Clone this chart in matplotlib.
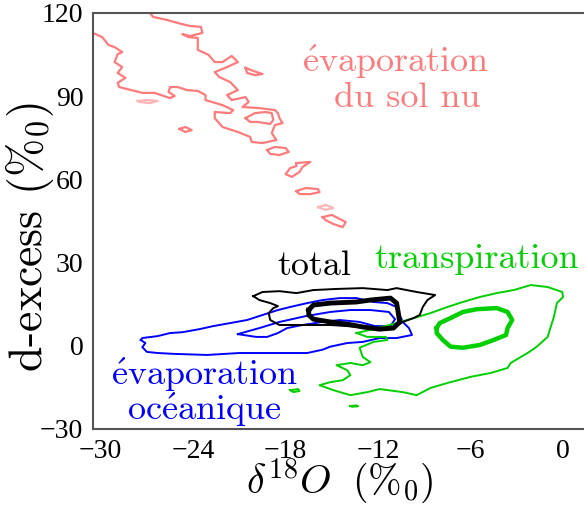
import numpy as np
import matplotlib.pyplot as plt

plt.rcParams['mathtext.fontset'] = 'cm'

############################################################
# Contours (delta18O, d-excess)
############################################################

# evaporation du sol nu (rose) : la bande principale, coupee par les axes
sol_bande = [(-26.8, 120.0), (-26.6, 118.6), (-25.7, 117.5), (-25.0, 116.4), (-24.2, 115.3),
             (-23.5, 115.0), (-23.4, 112.8), (-24.2, 111.7), (-24.7, 112.4), (-24.3, 111.3),
             (-23.7, 111.0), (-23.7, 106.7), (-23.0, 104.9), (-22.6, 102.3), (-22.1, 102.3),
             (-21.5, 104.5), (-21.1, 102.3), (-21.8, 100.5), (-22.6, 98.7), (-22.3, 96.9),
             (-21.6, 95.1), (-21.1, 92.2), (-21.8, 90.4), (-21.5, 88.6), (-20.6, 89.7),
             (-20.4, 87.9), (-20.8, 86.1), (-19.7, 85.7), (-18.7, 85.0), (-18.5, 83.9),
             (-18.4, 82.1), (-18.2, 80.3), (-18.7, 79.6), (-18.9, 76.7), (-18.6, 74.2),
             (-19.5, 73.1), (-20.2, 73.5), (-20.3, 75.3), (-21.1, 77.1), (-22.1, 78.9),
             (-22.6, 82.1), (-22.6, 84.3), (-21.6, 83.9), (-21.4, 85.0), (-22.1, 86.8),
             (-23.2, 88.6), (-23.2, 90.4), (-23.7, 91.9), (-24.4, 92.2), (-25.0, 93.3),
             (-25.5, 93.3), (-25.6, 91.5), (-25.2, 90.1), (-25.5, 89.3), (-26.5, 91.2),
             (-27.3, 91.2), (-28.8, 93.3), (-28.9, 94.8), (-28.4, 96.6), (-28.9, 98.4),
             (-28.6, 100.5), (-29.1, 102.3), (-28.9, 105.2), (-28.6, 105.9), (-29.1, 107.7),
             (-29.5, 108.5), (-29.9, 111.3), (-30.5, 112.8)]
sol_boucle = [(-20.6, 82.1), (-20.0, 83.9), (-19.3, 84.3), (-18.9, 83.9), (-18.8, 81.4),
              (-19.0, 80.0), (-19.8, 80.7), (-20.3, 80.7)]
sol_ilots = [
    [(-20.6, 100.2), (-20.1, 99.1), (-19.5, 98.0), (-20.0, 97.6), (-20.5, 98.4)],
    [(-24.9, 78.2), (-24.5, 78.9), (-24.1, 77.8), (-24.5, 77.1)],
    [(-19.2, 70.6), (-18.7, 71.7), (-18.0, 71.3), (-17.8, 69.9), (-18.4, 68.8), (-19.0, 69.2)],
    [(-17.3, 65.9), (-16.4, 66.3), (-16.9, 64.5), (-17.1, 62.7), (-17.6, 60.9), (-18.0, 61.9),
     (-17.7, 64.1), (-17.3, 64.8)],
    [(-17.3, 55.8), (-16.7, 56.9), (-15.9, 56.5), (-15.8, 55.4), (-16.4, 54.7), (-17.1, 54.7)],
    [(-15.6, 46.4), (-15.0, 47.2), (-14.1, 44.6), (-14.3, 42.8), (-14.9, 43.9), (-15.4, 45.3)],
]
sol_ilots_pales = [
    [(-27.6, 88.3), (-27.0, 88.6), (-26.3, 88.3), (-26.8, 87.5), (-27.5, 87.9)],
    [(-15.9, 50.0), (-15.4, 50.8), (-14.9, 49.7), (-15.4, 49.0)],
]

# total (noir)
total_ext = [(-20.1, 17.9), (-19.5, 19.4), (-18.4, 19.7), (-17.3, 19.0), (-16.2, 20.1),
             (-14.7, 20.5), (-13.0, 20.8), (-11.4, 20.1), (-10.8, 20.8), (-9.5, 19.4),
             (-8.3, 18.3), (-8.8, 16.5), (-9.1, 14.0), (-9.3, 11.1), (-9.7, 10.0),
             (-10.4, 8.6), (-10.7, 7.5), (-11.2, 6.4), (-12.5, 6.4), (-14.0, 7.1),
             (-15.1, 7.5), (-17.3, 7.5), (-18.4, 7.5), (-19.0, 9.3), (-19.1, 11.8),
             (-18.8, 13.6), (-18.5, 14.3), (-19.0, 15.4), (-19.7, 16.5)]
total_int = [(-16.5, 12.9), (-16.2, 14.7), (-15.1, 15.4), (-13.4, 15.8), (-12.5, 16.5),
             (-11.2, 17.2), (-10.8, 15.4), (-10.7, 12.2), (-10.6, 8.6), (-11.0, 6.4),
             (-11.9, 6.0), (-13.0, 6.8), (-14.0, 7.8), (-15.1, 8.6), (-16.2, 9.6),
             (-16.5, 11.1)]

# evaporation oceanique (bleu)
ocean_ext = [(-27.4, 2.1), (-27.3, 2.8), (-26.3, 3.5), (-25.5, 4.6), (-24.7, 4.9),
             (-23.6, 6.0), (-22.7, 7.1), (-21.6, 8.2), (-20.5, 9.3), (-19.5, 11.1),
             (-18.5, 12.9), (-17.7, 14.0), (-16.6, 15.4), (-15.6, 16.5), (-14.5, 17.2),
             (-13.4, 17.2), (-12.3, 15.8), (-11.4, 15.4), (-10.8, 14.0), (-10.6, 11.1),
             (-10.4, 8.6), (-10.0, 6.4), (-9.8, 3.9), (-10.8, 2.8), (-11.9, 2.8),
             (-13.0, 1.4), (-14.0, 1.0), (-15.1, -0.3), (-15.6, -1.4), (-16.6, -2.6),
             (-18.8, -2.6), (-21.0, -2.6), (-23.1, -3.3), (-25.3, -2.9), (-26.3, -2.6),
             (-27.0, -2.2), (-27.3, -0.5), (-27.1, 1.0)]
ocean_int = [(-21.1, 4.2), (-19.9, 3.2), (-19.2, 3.2), (-18.5, 4.6), (-17.9, 6.4),
             (-16.9, 7.5), (-15.6, 8.6), (-14.5, 9.3), (-13.2, 8.6), (-12.2, 7.1),
             (-11.2, 7.1), (-10.9, 9.6), (-11.3, 12.2), (-12.5, 12.9), (-13.8, 12.9),
             (-15.1, 12.2), (-16.7, 10.7), (-18.4, 8.6), (-19.7, 6.4), (-20.6, 5.0)]

# transpiration (vert)
transp_ext = [(-13.4, 4.6), (-12.3, 6.0), (-10.8, 8.2), (-9.5, 10.3), (-8.6, 11.8),
              (-7.5, 14.0), (-6.5, 15.8), (-5.4, 17.6), (-4.3, 19.0), (-3.2, 20.1),
              (-2.1, 21.9), (-1.0, 21.2), (-0.05, 19.4), (0.0, 17.6), (-0.4, 15.4),
              (-0.6, 10.3), (-0.8, 6.8), (-1.0, 3.2), (-1.7, -0.3), (-2.3, -2.6),
              (-3.4, -6.2), (-3.6, -8.0), (-4.7, -9.8), (-6.0, -11.2), (-7.5, -13.4),
              (-8.6, -15.2), (-9.5, -17.8), (-10.4, -16.7), (-11.9, -15.6), (-12.7, -16.7),
              (-13.8, -17.8), (-14.9, -16.0), (-15.8, -14.2), (-15.1, -13.1), (-14.3, -12.4),
              (-13.8, -10.6), (-14.0, -8.8), (-14.7, -7.0), (-13.8, -6.2), (-13.0, -7.0),
              (-12.5, -5.9), (-13.0, -4.0), (-13.2, -0.7), (-12.3, 1.4), (-11.4, 2.1),
              (-11.5, 3.2), (-12.7, 3.2)]
transp_int = [(-8.2, 6.4), (-8.0, 8.2), (-7.3, 10.0), (-6.5, 12.2), (-5.6, 13.2),
              (-4.3, 13.6), (-3.6, 12.2), (-3.3, 9.3), (-3.6, 6.4), (-3.7, 3.9),
              (-4.5, 2.1), (-5.4, 0.3), (-6.5, -0.7), (-7.3, -0.3), (-7.8, 2.1),
              (-8.2, 4.6)]
transp_ilots = [
    [(-17.7, -16.0), (-17.2, -15.6), (-17.1, -16.3), (-17.5, -16.7)],
    [(-13.8, -21.7), (-13.4, -21.5), (-13.3, -21.8), (-13.7, -22.0)],
]

rose = '#ff7b7b'
bleu = '#0000ff'
vert = '#00d000'


def trace(ax, pts, couleur, lw, ferme=True, alpha=1.0):
    pts = np.array(pts)
    if ferme:
        pts = np.vstack([pts, pts[:1]])
    ax.plot(pts[:, 0], pts[:, 1], color=couleur, lw=lw, alpha=alpha, solid_joinstyle='round')


#####################################
# Figure
#####################################

fig = plt.figure(figsize=(5.84, 5.07), dpi=100)
ax = fig.add_axes([93 / 584, 1 - 429 / 507, 491 / 584, 416 / 507])

trace(ax, sol_bande, rose, 1.6, ferme=False)
trace(ax, sol_boucle, rose, 1.6)
for ilot in sol_ilots:
    trace(ax, ilot, rose, 1.6)
for ilot in sol_ilots_pales:
    trace(ax, ilot, rose, 1.6, alpha=0.55)

trace(ax, ocean_ext, bleu, 1.4)
trace(ax, ocean_int, bleu, 1.4)
trace(ax, transp_ext, vert, 1.4)
trace(ax, transp_int, vert, 3.2)
for ilot in transp_ilots:
    trace(ax, ilot, vert, 1.4)
trace(ax, total_ext, 'black', 1.4)
trace(ax, total_int, 'black', 3.5)

# textes
cm = 'cmr10'
e_aigu = r'$\mathrm{\acute{e}}$'
ax.text(-10.9, 98.7, e_aigu + 'vaporation', color=rose, fontsize=26, family=cm,
        ha='center', va='baseline')
ax.text(-10.1, 86.1, 'du sol nu', color=rose, fontsize=26, family=cm,
        ha='center', va='baseline')
ax.text(-16.15, 25.5, 'total', color='black', fontsize=26, family=cm,
        ha='center', va='baseline')
ax.text(-5.6, 28.0, 'transpiration', color=vert, fontsize=26, family=cm,
        ha='center', va='baseline')
ax.text(-23.3, -14.2, e_aigu + 'vaporation', color=bleu, fontsize=26, family=cm,
        ha='center', va='baseline', clip_on=False)
ax.text(-23.3, -26.8, 'oc' + e_aigu + 'anique', color=bleu, fontsize=26, family=cm,
        ha='center', va='baseline', clip_on=False)

ax.set_xlim(-30.5, 1.36)
ax.set_ylim(-30, 120)
ax.set_xticks([-30, -24, -18, -12, -6, 0])
ax.set_yticks([-30, 0, 30, 60, 90, 120])
ax.tick_params(length=0, pad=7, labelsize=20)
for lab in ax.get_xticklabels() + ax.get_yticklabels():
    lab.set_family('Liberation Serif')

for s in ['left', 'bottom', 'top']:
    ax.spines[s].set_color('#555555')
    ax.spines[s].set_linewidth(1.5)
ax.spines['right'].set_visible(False)

ax.set_xlabel(r'$\delta^{18}O\ \;(\%_0)$', fontsize=29)
ax.set_ylabel(r'd-excess $(\%_0)$', fontsize=33, family=cm)
ax.xaxis.set_label_coords(0.503, -0.066)
ax.yaxis.set_label_coords(-0.075, 0.46)

fig.savefig('out.png', dpi=100)
